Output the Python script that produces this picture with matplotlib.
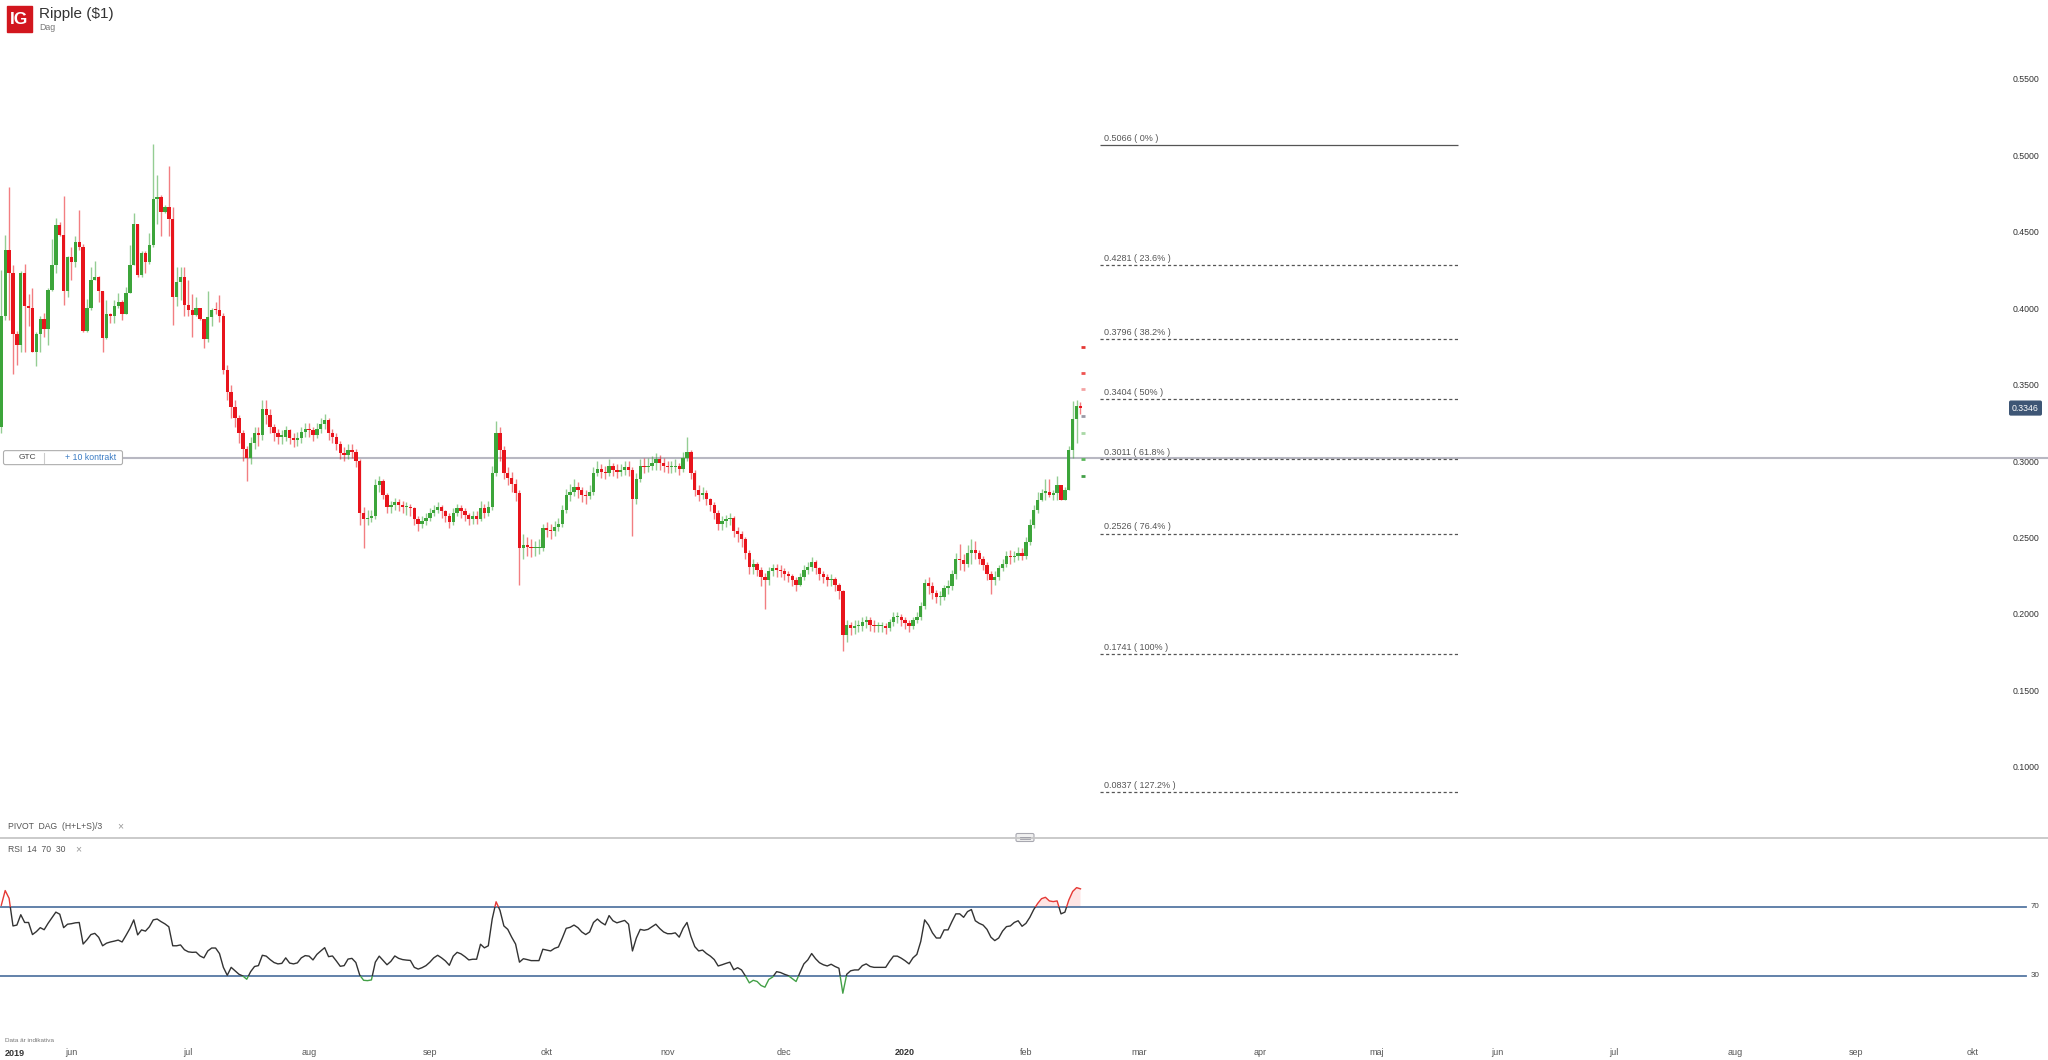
import numpy as np
import matplotlib
matplotlib.use('Agg')
import matplotlib.pyplot as plt
import matplotlib.dates as mdates
import matplotlib.transforms as mtrans
from matplotlib.patches import FancyBboxPatch, Rectangle
from datetime import datetime, timedelta

plt.rcParams['font.family'] = ['Liberation Sans', 'DejaVu Sans']

# Ripple ($1), daily candles from 14 May 2019
start = datetime(2019, 5, 14)
first_open = 0.322

close = [
    .395, .438, .423, .383, .3757, .4226, .401, .400, .371, .383,
    .393, .386, .412, .428, .454, .448, .411, .4335, .430, .443,
    .440, .385, .400, .418, .420, .411, .3805, .396, .3947, .401,
    .404, .396, .410, .428, .4546, .4215, .4357, .4298, .441, .4712,
    .4727, .463, .4662, .458, .407, .417, .420, .402, .399, .3954,
    .3997, .3925, .380, .3943, .399, .3985, .3947, .3594, .345, .335,
    .328, .318, .308, .302, .312, .318, .317, .334, .330, .322,
    .318, .316, .316, .320, .315, .314, .315, .319, .321, .320,
    .317, .321, .324, .327, .318, .316, .311, .305, .304, .307,
    .306, .300, .266, .262, .263, .264, .284, .287, .278, .270,
    .271, .273, .271, .270, .270, .269, .262, .259, .261, .263,
    .266, .268, .270, .267, .264, .260, .266, .269, .267, .265,
    .262, .264, .262, .269, .266, .270, .292, .318, .307, .292,
    .289, .285, .279, .243, .245, .244, .243, .243, .243, .256,
    .255, .254, .257, .259, .268, .278, .280, .283, .281, .278,
    .277, .280, .292, .295, .293, .292, .297, .294, .293, .294,
    .296, .294, .275, .288, .297, .296, .297, .299, .301, .299,
    .297, .296, .296, .297, .295, .302, .306, .292, .281, .278,
    .279, .275, .271, .266, .259, .261, .262, .263, .254, .252,
    .249, .240, .231, .233, .229, .224, .222, .228, .230, .229,
    .228, .226, .225, .222, .219, .224, .229, .231, .234, .230,
    .226, .224, .222, .223, .219, .215, .186, .193, .191, .192,
    .192, .195, .196, .193, .192, .192, .192, .191, .195, .198,
    .198, .196, .194, .192, .196, .198, .205, .220, .218, .214,
    .211, .211, .217, .218, .226, .236, .235, .233, .240, .242,
    .240, .236, .232, .226, .222, .224, .230, .233, .238, .237,
    .238, .240, .238, .247, .258, .268, .2745, .2793, .280, .2778,
    .279, .2843, .2745, .281, .3072, .3275, .3360, .3346,
]

high = [
    .425, .448, .479, .428, .385, .424, .429, .409, .413, .384,
    .395, .397, .413, .445, .459, .456, .473, .434, .440, .447,
    .464, .442, .406, .427, .431, .421, .411, .405, .397, .405,
    .410, .405, .414, .441, .462, .455, .437, .437, .449, .507,
    .487, .474, .467, .4928, .466, .427, .427, .427, .418, .409,
    .407, .400, .393, .411, .400, .404, .4085, .397, .363, .350,
    .340, .330, .320, .310, .316, .322, .322, .340, .340, .334,
    .324, .321, .320, .323, .321, .318, .319, .322, .325, .325,
    .322, .325, .328, .331, .328, .321, .318, .313, .309, .311,
    .311, .308, .301, .270, .268, .268, .288, .290, .288, .279,
    .274, .276, .275, .274, .273, .272, .270, .264, .264, .266,
    .269, .271, .273, .271, .268, .266, .269, .272, .271, .269,
    .266, .267, .267, .274, .272, .274, .297, .326, .322, .310,
    .296, .293, .288, .281, .252, .250, .249, .248, .249, .259,
    .260, .259, .261, .263, .271, .282, .285, .288, .286, .283,
    .281, .284, .296, .300, .298, .297, .301, .299, .298, .298,
    .300, .300, .296, .292, .301, .302, .302, .303, .305, .304,
    .302, .300, .300, .301, .299, .306, .316, .307, .294, .284,
    .283, .281, .276, .273, .268, .264, .265, .266, .264, .257,
    .254, .250, .242, .236, .234, .231, .227, .231, .233, .233,
    .232, .230, .228, .226, .224, .227, .232, .234, .237, .235,
    .231, .228, .226, .226, .224, .220, .216, .196, .195, .196,
    .196, .198, .199, .198, .196, .195, .195, .194, .197, .201,
    .201, .200, .198, .196, .198, .201, .208, .223, .224, .221,
    .216, .215, .219, .222, .229, .240, .246, .239, .245, .249,
    .248, .242, .238, .234, .228, .228, .232, .236, .241, .242,
    .241, .244, .243, .250, .262, .271, .280, .282, .288, .288,
    .281, .290, .2843, .283, .3098, .3394, .3398, .3388,
]

low = [
    .318, .392, .392, .357, .363, .371, .371, .388, .371, .362,
    .371, .381, .376, .411, .423, .447, .402, .407, .418, .427,
    .438, .384, .384, .399, .418, .404, .371, .380, .390, .390,
    .400, .392, .396, .410, .428, .420, .420, .423, .429, .440,
    .455, .447, .462, .447, .389, .401, .405, .395, .395, .381,
    .395, .392, .374, .378, .388, .396, .391, .357, .340, .328,
    .322, .312, .300, .287, .298, .308, .310, .314, .324, .318,
    .313, .311, .311, .313, .311, .309, .310, .312, .316, .316,
    .313, .315, .318, .321, .314, .312, .307, .301, .300, .301,
    .302, .296, .258, .243, .258, .260, .262, .280, .275, .266,
    .266, .268, .267, .266, .265, .264, .258, .254, .256, .258,
    .261, .264, .266, .263, .260, .256, .258, .264, .263, .261,
    .258, .259, .259, .261, .263, .264, .268, .290, .300, .288,
    .284, .280, .274, .219, .236, .238, .237, .238, .239, .241,
    .250, .249, .251, .254, .257, .266, .274, .277, .276, .273,
    .272, .275, .278, .290, .289, .288, .290, .290, .289, .290,
    .291, .290, .251, .272, .286, .292, .293, .294, .294, .294,
    .293, .292, .292, .293, .291, .293, .300, .288, .277, .274,
    .275, .271, .267, .262, .255, .255, .257, .258, .250, .247,
    .244, .236, .226, .226, .225, .218, .203, .219, .225, .224,
    .224, .222, .221, .218, .215, .218, .222, .226, .228, .226,
    .222, .220, .218, .218, .215, .210, .176, .182, .186, .187,
    .188, .189, .191, .189, .188, .188, .188, .187, .189, .192,
    .194, .192, .190, .188, .190, .194, .196, .203, .213, .210,
    .207, .206, .209, .213, .216, .223, .229, .228, .231, .233,
    .236, .233, .229, .222, .213, .219, .222, .228, .231, .233,
    .234, .235, .235, .236, .245, .256, .266, .274, .2745, .2767,
    .2745, .2745, .2745, .2745, .281, .3017, .312, .3307,
]

rsi = [
    71, 79.5, 75, 59, 59.5, 65.5, 61, 61, 54, 55.7,
    58, 56.8, 60.5, 63.8, 67, 65.8, 58, 60, 60.3, 60.8,
    61, 48.5, 51, 54, 54.7, 52.4, 47.5, 49, 49.7, 50.2,
    50.8, 49.7, 53.5, 57.5, 62.5, 53.8, 56.7, 56, 58.5, 62.5,
    63, 61.5, 60.2, 58.5, 47.5, 47.5, 48, 45.2, 44, 43.7,
    43.8, 41.6, 40.5, 44.5, 46.2, 46.2, 43, 35, 30.4, 35,
    33, 31, 30, 28.1, 32.5, 35.5, 36, 42, 41.5, 39.5,
    37.8, 37, 37.3, 40.5, 37.5, 37, 37.6, 40.5, 41.8, 41.5,
    39.3, 42.5, 44.5, 46.4, 41.2, 41.6, 38.7, 35.6, 36, 39.8,
    40.2, 37.8, 30.5, 27.5, 27.3, 27.7, 38, 41.5, 39, 36.5,
    38.5, 41.6, 40.2, 39.5, 39.2, 39, 35, 34, 34.8, 36,
    38, 40.5, 42, 40.5, 38.7, 36.2, 41.5, 43.7, 42.8, 41.2,
    39.3, 39.7, 39.7, 48.4, 46.3, 47.5, 63, 73, 68, 59,
    57, 52.5, 48.5, 38, 40, 39.5, 38.9, 38.9, 38.9, 45.5,
    45, 44.5, 46, 46.8, 52, 57.6, 58.2, 59.5, 58, 55.5,
    54, 55.5, 61, 63, 61, 59.6, 65, 62, 60.8, 61.5,
    62.2, 60, 44.5, 52, 57, 56.5, 57, 58.5, 60, 57.5,
    55.5, 54.5, 54.5, 55, 52.5, 57.6, 61, 53, 47, 44.5,
    45, 43, 41.5, 39.5, 35.8, 36.5, 37.3, 38, 33.6, 34.8,
    33.5, 30, 26, 27.5, 26.8, 24.5, 23.5, 28, 29.4, 32.5,
    32, 31, 30.2, 28.5, 26.8, 32, 37, 39.3, 43, 40,
    37.7, 36.5, 35.8, 36.8, 35.5, 34.5, 20, 31, 33, 33.5,
    33.5, 36, 37, 35.5, 35, 35, 35, 35, 38.5, 41.5,
    41.5, 40.3, 38.8, 37, 40.5, 42.5, 50, 62.5, 59.5, 55,
    52, 52, 56.7, 56.7, 61.5, 66, 66, 64, 67.3, 68.5,
    62, 60.5, 59.5, 57, 52.5, 50.5, 52, 56, 58.6, 59,
    61, 62, 58.8, 60.5, 64, 68.5, 72, 74.8, 75.6, 73.5,
    73.1, 73.5, 66, 67, 74, 79, 81.2, 80.5,
]

fib_levels = [0.5066, 0.4281, 0.3796, 0.3404, 0.3011, 0.2526, 0.1741, 0.0837]
fib_pcts = ['0%', '23.6%', '38.2%', '50%', '61.8%', '76.4%', '100%', '127.2%']

# daily pivot points R3, R2, R1, P, S1, S2, S3
pivot_levels = [0.3745, 0.3575, 0.3470, 0.3294, 0.3183, 0.3013, 0.2902]
pivot_colors = ['#e53935', '#ef5350', '#f4a3a3', '#9a9aa6', '#a9d8a6', '#5cb85c', '#43a047']

gtc_level = 0.3022
price_ticks = [0.10, 0.15, 0.20, 0.25, 0.30, 0.35, 0.40, 0.45, 0.50, 0.55]
month_dates = [(2019, 6), (2019, 7), (2019, 8), (2019, 9), (2019, 10), (2019, 11), (2019, 12),
               (2020, 1), (2020, 2), (2020, 3), (2020, 4), (2020, 5), (2020, 6), (2020, 7),
               (2020, 8), (2020, 9), (2020, 10)]
month_labels = ['jun', 'jul', 'aug', 'sep', 'okt', 'nov', 'dec', '2020', 'feb', 'mar', 'apr',
                'maj', 'jun', 'jul', 'aug', 'sep', 'okt']

GREEN = '#3ca53a'
RED = '#e8141c'
W, H = 2048, 1060

c = np.array(close)
hi = np.array(high)
lo = np.array(low)
o = np.r_[first_open, c[:-1]]
hi = np.maximum(hi, np.maximum(o, c))
lo = np.minimum(lo, np.minimum(o, c))
n = len(c)
x0 = mdates.date2num(start)
xs = x0 + np.arange(n)
r = np.array(rsi, dtype=float)
xr = x0 + np.arange(len(r))

left = x0 - 0.334
right = left + W / 3.896

fig = plt.figure(figsize=(W / 100, H / 100), dpi=100)

# ---- price panel
ax = fig.add_axes([0, (H - 836) / H, 1, 836 / H])
ax.set_xlim(left, right)
ax.set_ylim(0.0549, 0.60131)
for s in ax.spines.values():
    s.set_visible(False)
ax.set_xticks([])
ax.set_yticks(price_ticks)
ax.yaxis.set_major_formatter(matplotlib.ticker.FormatStrFormatter('%.4f'))
ax.yaxis.tick_right()
ax.tick_params(axis='y', length=0, pad=-25.3, labelsize=6.3, labelcolor='#333333')

up = c >= o
dn = ~up
ax.vlines(xs[up], lo[up], hi[up], color=GREEN, alpha=0.55, lw=1.0, zorder=2)
ax.vlines(xs[dn], lo[dn], hi[dn], color=RED, alpha=0.55, lw=1.0, zorder=2)
body = np.maximum(np.abs(c - o), 0.0009)
ax.bar(xs[up], body[up], bottom=o[up], width=0.86, color=GREEN, lw=0, zorder=3)
ax.bar(xs[dn], body[dn], bottom=c[dn], width=0.86, color=RED, lw=0, zorder=3)

# pivot dashes for the next session
ax.hlines(pivot_levels, xs[-1] + 0.15, xs[-1] + 1.15, colors=pivot_colors, lw=2, zorder=3)

# order line
ax.axhline(gtc_level, xmin=123 / W, xmax=1, color='#b8b8c2', lw=1.5, zorder=1)

# fibonacci retracement
fx0, fx1 = x0 + 282, x0 + 374
for i, (lvl, pct) in enumerate(zip(fib_levels, fib_pcts)):
    ls = '-' if i == 0 else (0, (2.5, 2))
    ax.hlines(lvl, fx0, fx1, colors='#555555', lw=0.9, linestyles=ls, zorder=2)
    ax.annotate(f'{lvl:.4f} ( {pct} )', (fx0 + 1, lvl), xytext=(0, 1.5), textcoords='offset points',
                fontsize=6.5, color='#555555', va='bottom', ha='left')

# last price tag
ax.annotate(f'{close[-1]:.4f}', xy=(2025.5 / W, close[-1]), xycoords=('axes fraction', 'data'),
            ha='center', va='center', fontsize=6.3, color='white',
            bbox=dict(boxstyle='round,pad=0.35,rounding_size=0.2', fc='#3e5675', ec='none'))

# ---- RSI panel
axr = fig.add_axes([0, (H - 1040) / H, 1, 195 / H])
axr.set_xlim(left, right)
axr.set_ylim(-7.1, 105.9)
for s in axr.spines.values():
    s.set_visible(False)
axr.set_yticks([])
axr.axhline(70, xmax=2026 / W, color='#5577a3', lw=1.3)
axr.axhline(30, xmax=2026 / W, color='#5577a3', lw=1.3)
tr = mtrans.blended_transform_factory(axr.transAxes, axr.transData)
for v in (70, 30):
    axr.text(2035 / W, v, str(v), transform=tr, fontsize=5.8, color='#444444', ha='center', va='center')

last_run = np.arange(len(r)) >= 265
axr.fill_between(xr, 70, r, where=(r > 70) & last_run, interpolate=True, color='#fde4e4', lw=0)
for lo_, hi_, col in [(-50, 30, '#43a047'), (30, 70, '#333333'), (70, 150, '#e53935')]:
    ln, = axr.plot(xr, r, color=col, lw=1.0)
    ln.set_clip_path(Rectangle((left, lo_), right - left, hi_ - lo_, transform=axr.transData))

ticks = [mdates.date2num(datetime(y, m, 1)) for y, m in month_dates]
axr.set_xticks(ticks, month_labels)
axr.tick_params(axis='x', length=0, pad=6, labelsize=6.5, labelcolor='#555555')
for lab in axr.get_xticklabels():
    if lab.get_text() == '2020':
        lab.set_fontweight('bold')
        lab.set_color('#333333')

# ---- overlay in pixel coordinates
ov = fig.add_axes([0, 0, 1, 1])
ov.set_xlim(0, W)
ov.set_ylim(H, 0)
ov.axis('off')
ov.patch.set_alpha(0)

# header
ov.add_patch(Rectangle((7, 6), 25, 26, color='#d2161e'))
ov.text(19.5, 20, 'IG', color='white', fontsize=12.5, fontweight='bold', ha='center', va='center')
ov.text(39, 14, 'Ripple ($1)', color='#333333', fontsize=11, ha='left', va='center')
ov.text(39, 27, 'Dag', color='#777777', fontsize=6.3, ha='left', va='center')

# order box
gy = (0.60131 - gtc_level) / (0.60131 - 0.0549) * 836
ov.add_patch(FancyBboxPatch((3.5, gy - 7), 119, 14, boxstyle='round,pad=0,rounding_size=2',
                            fc='white', ec='#aeaeae', lw=0.8))
ov.text(27.5, gy, 'GTC', color='#444444', fontsize=6, ha='center', va='center')
ov.plot([43.5, 43.5], [gy - 5, gy + 5], color='#cccccc', lw=0.8)
ov.text(116, gy, '+ 10 kontrakt', color='#3b7cc4', fontsize=6.3, ha='right', va='center')

# panel separator and handle
ov.plot([0, W], [837.5, 837.5], color='#c6c6c6', lw=1.3)
ov.add_patch(FancyBboxPatch((1016, 833.5), 18, 8, boxstyle='round,pad=0,rounding_size=1.5',
                            fc='#f0f0f0', ec='#a8a8b0', lw=0.8))
ov.plot([1020, 1030], [836.5, 836.5], color='#9a9aa4', lw=0.6)
ov.plot([1020, 1030], [838.8, 838.8], color='#9a9aa4', lw=0.6)

ov.text(8, 826.5, 'PIVOT  DAG  (H+L+S)/3', color='#555555', fontsize=6.2, ha='left', va='center')
ov.text(120, 826, '\u00d7', color='#999999', fontsize=7.5, ha='center', va='center')
ov.text(8, 850, 'RSI  14  70  30', color='#555555', fontsize=6.2, ha='left', va='center')
ov.text(78, 849.5, '\u00d7', color='#999999', fontsize=7.5, ha='center', va='center')

ov.text(5, 1040, 'Data \u00e4r indikativa', color='#777777', fontsize=4.6, ha='left', va='center')
ov.text(5, 1053, '2019', color='#333333', fontsize=6.5, fontweight='bold', ha='left', va='center')

fig.savefig('out.png', dpi=100)
